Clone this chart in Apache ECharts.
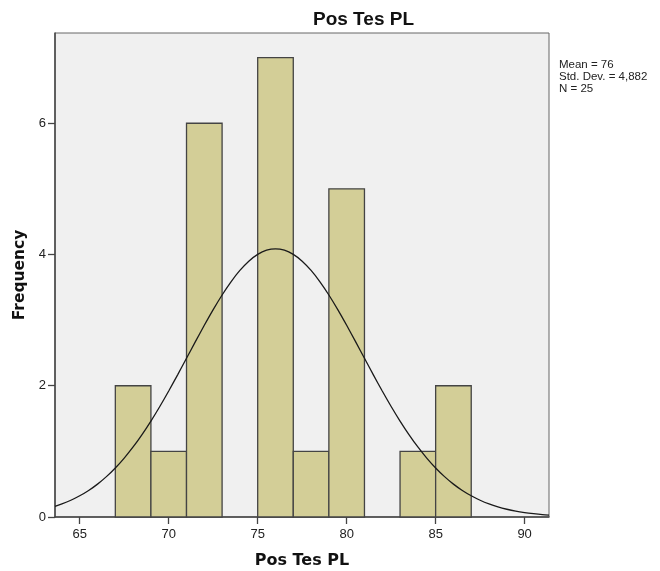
<!DOCTYPE html>
<html>
<head>
<meta charset="utf-8">
<script src="https://cdn.jsdelivr.net/npm/echarts@6/dist/echarts.min.js"></script>
<style>
html,body{margin:0;padding:0;background:#fff;}
#chart{width:660px;height:571px;}
</style>
</head>
<body>
<div id="chart"></div>
<script>
// Histogram bins (lower/upper edges) and frequencies
var binLower = [67, 69, 71, 73, 75, 77, 79, 81, 83, 85];
var binUpper = [69, 71, 73, 75, 77, 79, 81, 83, 85, 87];
var frequency = [2, 1, 6, 0, 7, 1, 5, 0, 1, 2];

// Normal curve
var curveX = [63.61,64,64.5,65,65.5,66,66.5,67,67.5,68,68.5,69,69.5,70,70.5,71,71.5,72,72.5,73,73.5,74,74.5,75,75.5,76,76.5,77,77.5,78,78.5,79,79.5,80,80.5,81,81.5,82,82.5,83,83.5,84,84.5,85,85.5,86,86.5,87,87.5,88,88.5,89,89.5,90,90.5,91,91.37];
var curveY = [0.163,0.199,0.255,0.323,0.404,0.501,0.615,0.747,0.898,1.067,1.256,1.462,1.684,1.920,2.166,2.419,2.672,2.921,3.160,3.383,3.584,3.757,3.898,4.001,4.065,4.086,4.065,4.001,3.898,3.757,3.584,3.383,3.160,2.921,2.672,2.419,2.166,1.920,1.684,1.462,1.256,1.067,0.898,0.747,0.615,0.501,0.404,0.323,0.255,0.199,0.154,0.118,0.089,0.067,0.050,0.036,0.029];

var xTicks = [65, 70, 75, 80, 85, 90];
var yTicks = [0, 2, 4, 6];

var titleText = 'Pos Tes PL';
var xName = 'Pos Tes PL';
var yName = 'Frequency';
var statsLines = ['Mean = 76', 'Std. Dev. = 4,882', 'N = 25'];

var histData = binLower.map(function (lo, i) { return [lo, binUpper[i], frequency[i]]; });
var curveData = curveX.map(function (x, i) { return [x, curveY[i]]; });

var chart = echarts.init(document.getElementById('chart'), null, {renderer: 'canvas'});
chart.setOption({
  animation: false,
  backgroundColor: '#ffffff',
  title: {
    text: titleText,
    left: 313,
    top: 10,
    padding: 0,
    textStyle: {fontFamily: 'Liberation Sans', fontWeight: 'bold', fontSize: 19, color: '#111'}
  },
  grid: {
    left: 55, right: 111, top: 33, bottom: 54,
    outerBoundsMode: 'none',
    containLabel: false,
    show: true, backgroundColor: '#F0F0F0', borderColor: '#666', borderWidth: 1
  },
  xAxis: {
    type: 'value', min: 63.61, max: 91.37,
    name: xName, nameLocation: 'middle', nameGap: 36,
    nameTextStyle: {fontFamily: 'DejaVu Sans', fontWeight: 'bold', fontSize: 16, color: '#111'},
    axisLine: {show: true, onZero: false, lineStyle: {color: '#444', width: 1.5}},
    axisTick: {show: true, length: 7, customValues: xTicks, lineStyle: {color: '#444', width: 1.3}},
    axisLabel: {customValues: xTicks, margin: 11, fontFamily: 'Liberation Sans', fontSize: 13, color: '#222'},
    splitLine: {show: false}
  },
  yAxis: {
    type: 'value', min: 0, max: 7.375,
    name: yName, nameLocation: 'middle', nameGap: 26,
    nameTextStyle: {fontFamily: 'DejaVu Sans', fontWeight: 'bold', fontSize: 15.5, color: '#111'},
    axisLine: {show: true, onZero: false, lineStyle: {color: '#444', width: 1.5}},
    axisTick: {show: true, length: 7, customValues: yTicks, lineStyle: {color: '#444', width: 1.3}},
    axisLabel: {customValues: yTicks, margin: 9, padding: [4, 0, 0, 0], fontFamily: 'Liberation Sans', fontSize: 13, color: '#222'},
    splitLine: {show: false}
  },
  graphic: [{
    type: 'text', left: 559, top: 59,
    style: {
      text: statsLines.join('\n'),
      font: '11.5px "Liberation Sans"', lineHeight: 12, fill: '#222'
    }
  }],
  series: [{
    type: 'custom',
    data: histData,
    encode: {x: [0, 1], y: 2},
    renderItem: function (params, api) {
      var lo = api.value(0), hi = api.value(1), f = api.value(2);
      if (!f) return null;
      var p0 = api.coord([lo, 0]);
      var p1 = api.coord([hi, f]);
      return {
        type: 'rect',
        shape: {x: p0[0], y: p1[1], width: p1[0] - p0[0], height: p0[1] - p1[1]},
        style: {fill: '#D3CE97', stroke: '#444', lineWidth: 1.3}
      };
    },
    z: 2
  }, {
    type: 'line',
    data: curveData,
    showSymbol: false,
    smooth: 0.3,
    lineStyle: {color: '#1a1a1a', width: 1.3},
    z: 3
  }]
});
</script>
</body>
</html>
